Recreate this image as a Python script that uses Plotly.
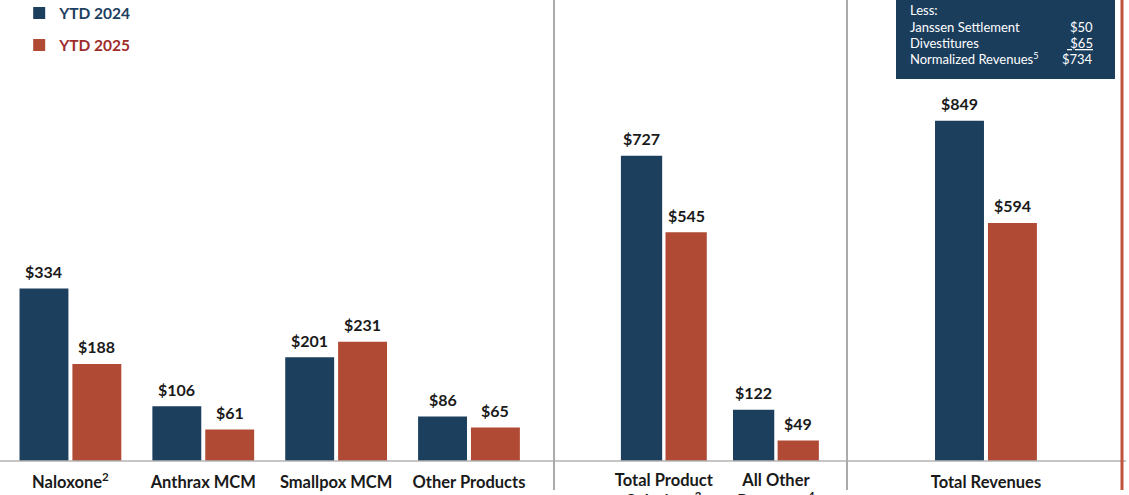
import plotly.graph_objects as go

# ---- data ----
panel1_cats = ["Naloxone<sup>2</sup>", "Anthrax MCM", "Smallpox MCM", "Other Products"]
panel1_2024 = [334, 106, 201, 86]
panel1_2025 = [188, 61, 231, 65]

panel2_cats = ["Total Product<br>Solutions<sup>3</sup>", "All Other<br>Revenues<sup>4</sup>"]
panel2_2024 = [727, 122]
panel2_2025 = [545, 49]

panel3_cats = ["Total Revenues"]
panel3_2024 = [849]
panel3_2025 = [594]

series_names = ["YTD 2024", "YTD 2025"]

box_rows = [("Janssen Settlement", "$50"), ("Divestitures", "<u> $65</u>"),
            ("Normalized Revenues<sup>5</sup>", "$734")]

# ---- style ----
BLUE = "#1d3f5e"
RED = "#b04a34"
BLUE_TXT = "#1e4060"
RED_TXT = "#9e2c2b"
FONT = "Lato"
W, H = 1129, 495
MB = 34
PH = H - MB
BARGAP = 0.204
GROUPGAP = 0.075

fig = go.Figure()
anns = []

panels = [
    (panel1_cats, panel1_2024, panel1_2025, "x", "y", True),
    (panel2_cats, panel2_2024, panel2_2025, "x2", "y2", False),
    (panel3_cats, panel3_2024, panel3_2025, "x3", "y3", False),
]
slot = (1 - BARGAP) / 2
for cats, v24, v25, xa, ya, show in panels:
    for k, (vals, name, col) in enumerate(((v24, series_names[0], BLUE),
                                           (v25, series_names[1], RED))):
        txtcol = BLUE_TXT if col == BLUE else RED_TXT
        fig.add_trace(go.Bar(
            x=cats, y=vals, xaxis=xa, yaxis=ya,
            name=f"<span style='color:{txtcol}'><b>{name}</b></span>",
            legendgroup=name, showlegend=show,
            marker=dict(color=col, line=dict(width=0)),
            cliponaxis=False, hoverinfo="skip",
        ))
        # value labels, positioned through the category axis + bar offset
        off = (k - 0.5) * slot
        for ci, (c, v) in enumerate(zip(cats, vals)):
            anns.append(dict(xref=xa, yref=ya, x=ci + off, y=v, text=f"<b>${v}</b>",
                             showarrow=False, xanchor="center", yanchor="middle", yshift=17,
                             font=dict(family=FONT, size=16, color="#1a1a1a")))

d1 = 554 / W
d2 = 847 / W
d3 = 1122 / W
tickfont = dict(family=FONT, size=16.5, color="#1a1a1a", weight="bold")
common_x = dict(showline=False, showgrid=False, zeroline=False, ticks="", tickfont=tickfont,
                fixedrange=True, automargin=False)
common_y = dict(visible=False, showgrid=False, zeroline=False, fixedrange=True)

fig.update_layout(
    width=W, height=H,
    margin=dict(l=0, r=0, t=0, b=MB, autoexpand=False),
    paper_bgcolor="white", plot_bgcolor="white",
    barmode="group", bargap=BARGAP, bargroupgap=GROUPGAP,
    font=dict(family=FONT),
    xaxis=dict(domain=[0, d1], range=[-0.53, 3.64], ticklabelstandoff=9, **common_x),
    xaxis2=dict(domain=[d1, d2], range=[-0.98, 1.634], ticklabelstandoff=7, **common_x),
    xaxis3=dict(domain=[d2, d3], range=[-1.045, 1.023], ticklabelstandoff=9, **common_x),
    yaxis=dict(range=[0, 893], **common_y),
    yaxis2=dict(range=[0, 1098], anchor="x2", **common_y),
    yaxis3=dict(range=[0, 1150], anchor="x3", **common_y),
    legend=dict(x=0.017, y=1.008, xanchor="left", yanchor="top",
                font=dict(family=FONT, size=15.5), bgcolor="rgba(0,0,0,0)",
                itemclick=False, tracegroupgap=9),
    showlegend=True,
)

# separators and baseline
shapes = []
def py(px):
    return (PH - px) / PH
shapes.append(dict(type="line", xref="paper", yref="paper", x0=0, x1=1126 / W, y0=0, y1=0,
                   line=dict(color="#b3b3b3", width=1.5)))
for xp in (554, 847):
    shapes.append(dict(type="line", xref="paper", yref="paper", x0=xp / W, x1=xp / W,
                       y0=py(0) + 0.01, y1=py(490), line=dict(color="#aaaaaa", width=2)))
shapes.append(dict(type="line", xref="paper", yref="paper", x0=1122 / W, x1=1122 / W,
                   y0=py(0) + 0.01, y1=py(490), line=dict(color="#c0533c", width=3)))
shapes.append(dict(type="rect", xref="paper", yref="paper", x0=896 / W, x1=1115 / W,
                   y0=py(79), y1=py(0) + 0.01, fillcolor="#1b3d5c", line=dict(width=0)))
fig.update_layout(shapes=shapes)

boxfont = dict(family=FONT, size=13, color="white")
anns.append(dict(xref="paper", yref="paper", x=908 / W, y=py(10), text="Less:", showarrow=False,
                 xanchor="left", yanchor="middle", font=boxfont))
for i, (lab, val) in enumerate(box_rows):
    yy = py(27 + 16 * i)
    anns.append(dict(xref="paper", yref="paper", x=908 / W, y=yy, text=lab, showarrow=False,
                     xanchor="left", yanchor="middle", font=boxfont))
    anns.append(dict(xref="paper", yref="paper", x=1095 / W, y=yy, text=val, showarrow=False,
                     xanchor="right", yanchor="middle", font=boxfont))
fig.update_layout(annotations=anns)

fig.write_html("out.html", config={"displayModeBar": False},
               post_script="document.body.style.margin='0';document.body.style.overflow='hidden';")
